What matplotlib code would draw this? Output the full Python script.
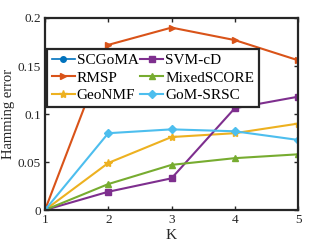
import matplotlib
matplotlib.use('Agg')
import matplotlib.pyplot as plt

plt.rcParams['font.family'] = ['Liberation Serif', 'DejaVu Serif']

K = [1, 2, 3, 4, 5]
scgoma = [0, 0, 0, 0, 0]
rmsp = [0, 0.172, 0.190, 0.177, 0.156]
geonmf = [0, 0.049, 0.076, 0.080, 0.090]
svmcd = [0, 0.019, 0.033, 0.106, 0.118]
mixedscore = [0, 0.027, 0.047, 0.054, 0.058]
gomsrsc = [0, 0.080, 0.084, 0.082, 0.073]

fig = plt.figure(figsize=(3.29, 2.47), dpi=100)
ax = fig.add_axes([45/329, 1-210/247, 253/329, 192/247])

# SCGoMA sits on zero, hidden under the bottom axis like in the original
ax.plot(K, scgoma, '-o', color=(0, 0.447, 0.741), lw=1.2, ms=4, markevery=[0], label='SCGoMA', zorder=1.5)
ax.plot(K, rmsp, '->', color=(0.85, 0.325, 0.098), lw=1.5, ms=5, label='RMSP')
ax.plot(K, geonmf, '-*', color=(0.929, 0.694, 0.125), lw=1.5, ms=6, label='GeoNMF')
ax.plot(K, svmcd, '-s', color=(0.494, 0.184, 0.556), lw=1.5, ms=4, label='SVM-cD')
ax.plot(K, mixedscore, '-^', color=(0.466, 0.674, 0.188), lw=1.5, ms=4.5, label='MixedSCORE')
ax.plot(K, gomsrsc, '-D', color=(0.301, 0.745, 0.933), lw=1.5, ms=4, label='GoM-SRSC')

ax.set_xlim(1, 5)
ax.set_ylim(0, 0.2)
ax.set_xticks(K)
ax.set_yticks([0, 0.05, 0.1, 0.15, 0.2])
ax.set_yticklabels(['0', '0.05', '0.1', '0.15', '0.2'])
ax.tick_params(direction='in', top=True, right=True, labelsize=9.5, length=3, width=1,
               pad=3, colors='#262626')
for s in ax.spines.values():
    s.set_linewidth(1.6)
    s.set_color('#262626')
    s.set_zorder(3)
ax.set_xlabel('K', fontsize=11, labelpad=2, color='#262626')
ax.set_ylabel('Hamming error', fontsize=10.5, labelpad=2, color='#262626')

leg = ax.legend(ncol=2, loc='upper left', bbox_to_anchor=(2/253, 1-31/192), fontsize=11,
                frameon=True, fancybox=False, edgecolor='#262626', framealpha=1,
                handlelength=1.5, handletextpad=0.15, columnspacing=0.1,
                labelspacing=0.25, borderpad=0.3, borderaxespad=0)
leg.get_frame().set_linewidth(1.6)
leg.set_zorder(5)

fig.savefig('out.png', dpi=100)
